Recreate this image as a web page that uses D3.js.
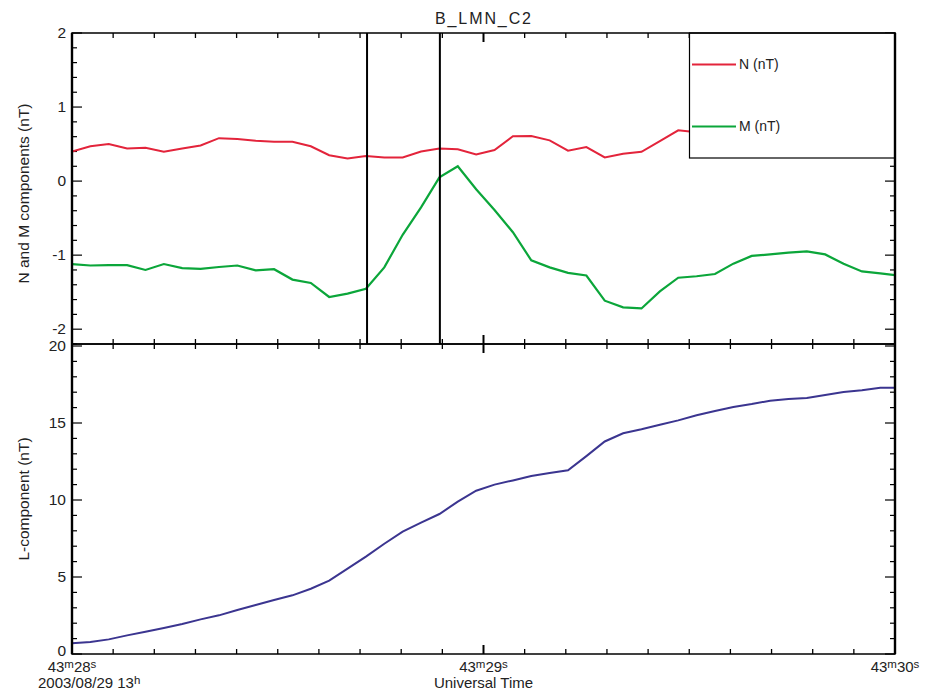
<!DOCTYPE html>
<html><head><meta charset="utf-8">
<script src="https://cdn.jsdelivr.net/npm/d3@7"></script>
<style>
body{margin:0;background:#fff;}
svg{font-family:"Liberation Sans",Arial,sans-serif;}
</style></head>
<body><svg id="c" width="930" height="691"></svg>
<script>
// ---- data ----
const sampleRate = 22.4; // Hz, samples start at 13:43:28.000
const N = [0.40,0.47,0.50,0.44,0.45,0.395,0.44,0.48,0.58,0.57,0.545,0.53,0.53,0.47,0.35,0.305,0.34,0.32,0.32,0.40,0.44,0.43,0.36,0.42,0.605,0.61,0.55,0.41,0.46,0.32,0.37,0.395,0.54,0.685,0.66,0.62,0.58,0.55,0.50,0.48,0.45,0.42,0.40,0.38,0.36,0.35];
const M = [-1.12,-1.14,-1.135,-1.135,-1.20,-1.12,-1.175,-1.185,-1.16,-1.14,-1.205,-1.19,-1.33,-1.375,-1.565,-1.52,-1.455,-1.165,-0.725,-0.355,0.05,0.20,-0.11,-0.39,-0.69,-1.07,-1.165,-1.24,-1.275,-1.615,-1.705,-1.72,-1.49,-1.305,-1.285,-1.255,-1.115,-1.01,-0.99,-0.965,-0.95,-0.99,-1.115,-1.22,-1.245,-1.275];
const L = [0.69,0.78,0.95,1.21,1.45,1.69,1.95,2.25,2.51,2.86,3.18,3.51,3.81,4.24,4.76,5.54,6.32,7.16,7.94,8.53,9.09,9.89,10.6,11.0,11.27,11.56,11.75,11.93,12.85,13.8,14.33,14.59,14.89,15.17,15.5,15.78,16.04,16.23,16.45,16.56,16.62,16.82,17.01,17.12,17.29,17.29];
const markers = [0.717, 0.894]; // seconds after 43m28s
const xMajor = [0, 1, 2];
const xMajorLabels = [["43","m","28","s"],["43","m","29","s"],["43","m","30","s"]];
const topMajor = [-2,-1,0,1,2];
const botMajor = [0,5,10,15,20];
const seriesNames = ["N (nT)","M (nT)"];
const colors = {N:"#e3243b", M:"#0ba63a", L:"#3b3590"};

// ---- layout ----
const svg = d3.select("#c");
const X0=72, X1=895, T0=33, T1=344, B0=344, B1=654;
const x = d3.scaleLinear().domain([0,2]).range([X0,X1]);
const yT = d3.scaleLinear().domain([-2.2,2]).range([T1,T0]);
const yB = d3.scaleLinear().domain([0,20.13]).range([B1,B0]);
const t = N.map((d,i)=>i/sampleRate);

const defs = svg.append("defs");
defs.append("clipPath").attr("id","cT").append("rect").attr("x",X0).attr("y",T0).attr("width",X1-X0).attr("height",T1-T0);
defs.append("clipPath").attr("id","cB").append("rect").attr("x",X0).attr("y",B0).attr("width",X1-X0).attr("height",B1-B0);

const xMinor = d3.range(0,21).map(i=>i/10).filter(v=>!xMajor.includes(v));

function xTicks(y, dir){ // dir -1 up, +1 down
  const g = svg.append("g").attr("stroke","#000").attr("stroke-width",1.3);
  g.selectAll(null).data(xMinor).join("line")
    .attr("x1",d=>x(d)).attr("x2",d=>x(d)).attr("y1",y).attr("y2",y+dir*5);
  g.selectAll(null).data(xMajor).join("line")
    .attr("x1",d=>x(d)).attr("x2",d=>x(d)).attr("y1",y).attr("y2",y+dir*9).attr("stroke-width",2);
}
function yTicks(scale, majors, minorStep, lo, hi, labels){
  const minors = d3.range(Math.round(lo/minorStep), Math.round(hi/minorStep)+1).map(i=>+(i*minorStep).toFixed(4))
    .filter(v=>!majors.includes(v) && scale(v)>=Math.min(...scale.range())-0.5 && scale(v)<=Math.max(...scale.range())+0.5);
  const g = svg.append("g").attr("stroke","#000").attr("stroke-width",1.2);
  [[X0,1],[X1,-1]].forEach(([xx,dir])=>{
    g.selectAll(null).data(minors).join("line")
      .attr("x1",xx).attr("x2",xx+dir*5).attr("y1",d=>scale(d)).attr("y2",d=>scale(d));
    g.selectAll(null).data(majors).join("line")
      .attr("x1",xx).attr("x2",xx+dir*10).attr("y1",d=>scale(d)).attr("y2",d=>scale(d));
  });
  if(labels){
    const lo0 = d3.min(majors);
    svg.append("g").selectAll(null).data(majors).join("text")
      .attr("x",X0-6).attr("y",d=>scale(d) - (labels==="bottom" && d===lo0 ? 4 : 1)).attr("dy","0.36em")
      .attr("text-anchor","end").attr("font-size",15.5).attr("fill","#222")
      .text(d=>d3.format("d")(d).replace("−","-"));
  }
}

// ---- top panel ----
yTicks(yT, topMajor, 0.2, -2.2, 2, "top");
xTicks(T0, 1); xTicks(T1, -1);

const lineT = d3.line().x((d,i)=>x(t[i])).y(d=>yT(d));
const gT = svg.append("g").attr("clip-path","url(#cT)");
gT.append("path").datum(N).attr("d",lineT).attr("fill","none").attr("stroke",colors.N).attr("stroke-width",2);
gT.append("path").datum(M).attr("d",lineT).attr("fill","none").attr("stroke",colors.M).attr("stroke-width",2.2);

svg.append("g").selectAll(null).data(markers).join("line")
  .attr("x1",d=>x(d)).attr("x2",d=>x(d)).attr("y1",T0).attr("y2",T1)
  .attr("stroke","#000").attr("stroke-width",2);

// legend
const lg = svg.append("g");
lg.append("rect").attr("x",689.5).attr("y",T0).attr("width",X1-689.5).attr("height",158-T0)
  .attr("fill","#fff").attr("stroke","#000").attr("stroke-width",1.2);
const legY = [64.5, 126.5];
const legC = [colors.N, colors.M];
seriesNames.forEach((s,i)=>{
  lg.append("line").attr("x1",692).attr("x2",736).attr("y1",legY[i]).attr("y2",legY[i])
    .attr("stroke",legC[i]).attr("stroke-width",2.2);
  lg.append("text").attr("x",739).attr("y",legY[i]+4.5).attr("font-size",14).attr("fill","#222").text(s);
});

// ---- bottom panel ----
yTicks(yB, botMajor, 1, 0, 20.13, "bottom");
xTicks(B0, 1); xTicks(B1, -1);
const lineB = d3.line().x((d,i)=>x(t[i])).y(d=>yB(d));
svg.append("g").attr("clip-path","url(#cB)").append("path").datum(L).attr("d",lineB)
  .attr("fill","none").attr("stroke",colors.L).attr("stroke-width",2);

// frames
svg.append("rect").attr("x",X0).attr("y",T0).attr("width",X1-X0).attr("height",T1-T0)
  .attr("fill","none").attr("stroke","#000").attr("stroke-width",1.5);
svg.append("rect").attr("x",X0).attr("y",B0).attr("width",X1-X0).attr("height",B1-B0)
  .attr("fill","none").attr("stroke","#000").attr("stroke-width",1.5);
[X0,X1].forEach(xx=>svg.append("line").attr("x1",xx).attr("x2",xx).attr("y1",T0).attr("y2",B1)
  .attr("stroke","#000").attr("stroke-width",2.4));

// ---- texts ----
svg.append("text").attr("x",483).attr("y",24).attr("text-anchor","middle")
  .attr("font-size",16).attr("fill","#222").attr("textLength",96).attr("lengthAdjust","spacing").text("B_LMN_C2");

svg.append("text").attr("transform",`translate(29,${(T0+T1)/2+5}) rotate(-90)`).attr("text-anchor","middle")
  .attr("font-size",15.5).attr("fill","#222").text("N and M components (nT)");
svg.append("text").attr("transform",`translate(29,${(B0+B1)/2}) rotate(-90)`).attr("text-anchor","middle")
  .attr("font-size",15.5).attr("fill","#222").text("L-component (nT)");

function supLabel(parent, parts, xx, yy, anchor){
  const tx = parent.append("text").attr("x",xx).attr("y",yy).attr("text-anchor",anchor)
    .attr("font-size",15).attr("fill","#222");
  parts.forEach((p,i)=>{
    const sp = tx.append("tspan").text(p);
    if(i%2===1){ sp.attr("font-size",11.5).attr("dy",-4.5); }
    else if(i>0){ sp.attr("dy",4.5); }
  });
  return tx;
}
const xl = svg.append("g");
xMajor.forEach((v,i)=>supLabel(xl, xMajorLabels[i], x(v), 672, "middle"));
supLabel(xl, ["2003/08/29 13","h"], 38, 688, "start");
xl.append("text").attr("x",x(1)).attr("y",688).attr("text-anchor","middle").attr("font-size",15)
  .attr("fill","#222").text("Universal Time");
</script></body></html>
